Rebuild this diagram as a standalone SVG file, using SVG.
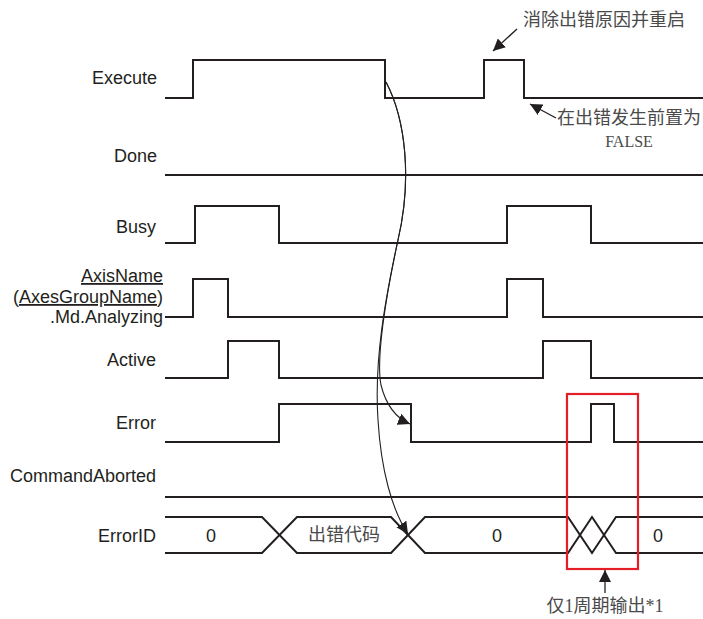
<svg xmlns="http://www.w3.org/2000/svg" width="703" height="619" viewBox="0 0 703 619">
<defs>
<style>
.sig{fill:none;stroke:#231f20;stroke-width:2;stroke-linejoin:miter}
.lbl{font-family:"Liberation Sans",Arial,sans-serif;font-size:18px;fill:#231f20;text-anchor:end}
.val{font-family:"Liberation Sans",Arial,sans-serif;font-size:18px;fill:#231f20;text-anchor:middle}
.cn{font-family:"Liberation Serif","Noto Sans CJK SC",serif;font-size:18px;fill:#4a4a4a}
.cur{fill:none;stroke:#231f20;stroke-width:1.1}
.ann{fill:none;stroke:#231f20;stroke-width:1.3}
</style>
<marker id="ah" viewBox="0 0 10 10" refX="10" refY="5" markerWidth="12" markerHeight="12" markerUnits="userSpaceOnUse" orient="auto">
<path d="M0,0 L10,5 L0,10 z" fill="#231f20"/>
</marker>
</defs>
<rect width="703" height="619" fill="#fff"/>

<g id="execute">
<text class="lbl" x="157" y="84">Execute</text>
<path class="sig" d="M165,98 H193 V60 H385 V98 H484 V60 H524 V98 H703"/>
</g>
<g id="done">
<text class="lbl" x="157" y="162">Done</text>
<path class="sig" d="M165,175 H703"/>
</g>
<g id="busy">
<text class="lbl" x="156" y="233">Busy</text>
<path class="sig" d="M165,243 H195 V206 H279 V243 H507 V206 H591 V243 H703"/>
</g>
<g id="analyzing">
<text class="lbl" x="163" y="282" text-decoration="underline">AxisName</text>
<text class="lbl" x="163" y="303">(<tspan text-decoration="underline">AxesGroupName</tspan>)</text>
<text class="lbl" x="163" y="323">.Md.Analyzing</text>
<path class="sig" d="M165,317 H193 V279 H228 V317 H507 V279 H543 V317 H703"/>
</g>
<g id="active">
<text class="lbl" x="156" y="366">Active</text>
<path class="sig" d="M165,378 H228 V341 H279 V378 H543 V341 H591 V378 H703"/>
</g>
<g id="error">
<text class="lbl" x="156" y="429">Error</text>
<path class="sig" d="M165,442 H279 V404 H411 V442 H591 V404 H614 V442 H703"/>
</g>
<g id="commandaborted">
<text class="lbl" x="156" y="482">CommandAborted</text>
<path class="sig" d="M165,497 H703"/>
</g>
<g id="errorid">
<text class="lbl" x="156" y="542">ErrorID</text>
<path class="sig" d="M165,517 H262 L297,553 H391 L425,517 H568 L592,553 L616,517 H703"/>
<path class="sig" d="M165,553 H262 L297,517 H391 L425,553 H568 L592,517 L616,553 H703"/>
<text class="val" x="211" y="542">0</text>
<text class="cn" x="344" y="541" text-anchor="middle">出错代码</text>
<text class="val" x="497" y="542">0</text>
<text class="val" x="658" y="542">0</text>
</g>

<g id="connectors">
<path class="cur" d="M386,82 C406,120 412,180 398,240 C385,300 376,360 381,385 C386,405 396,418 410,424" marker-end="url(#ah)"/>
<path class="cur" d="M386,82 C406,120 412,180 398,240 C385,300 374,360 378,420 C381,470 392,510 408,534" marker-end="url(#ah)"/>
<path class="ann" d="M517,29 L493,51" marker-end="url(#ah)"/>
<path class="ann" d="M556,118 L530,104" marker-end="url(#ah)"/>
<path class="ann" d="M605,593 L605,570" marker-end="url(#ah)"/>
</g>

<g id="annotations">
<text class="cn" x="604" y="26" text-anchor="middle">消除出错原因并重启</text>
<text class="cn" x="629" y="124" text-anchor="middle">在出错发生前置为</text>
<text class="cn" x="629" y="147" text-anchor="middle" style="font-size:16px">FALSE</text>
<rect id="highlight" x="567" y="394" width="71" height="175" fill="none" stroke="#e31e26" stroke-width="2.2"/>
<text class="cn" x="605" y="612" text-anchor="middle">仅1周期输出*1</text>
</g>
</svg>
